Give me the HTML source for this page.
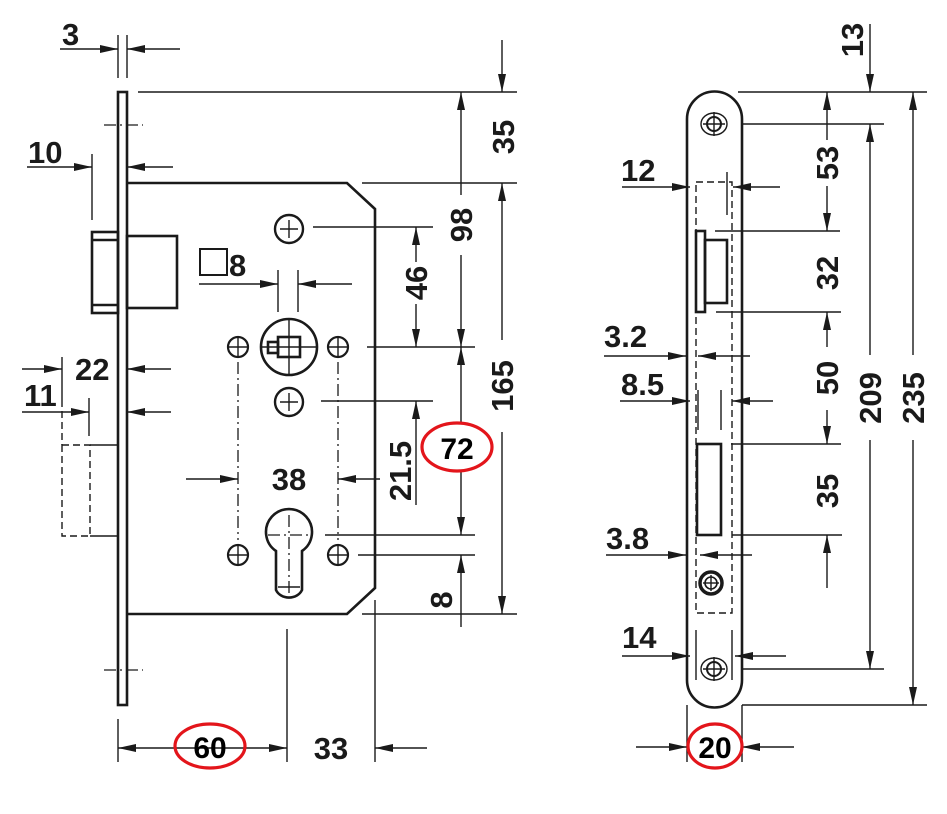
<!DOCTYPE html>
<html><head><meta charset="utf-8"><style>
html,body{margin:0;padding:0;background:#fff}
svg{display:block}
text{font-family:"Liberation Sans",Arial,sans-serif;font-weight:bold;font-size:31px;fill:#1a1a1a}
.o{stroke:#1a1a1a;stroke-width:2.6;fill:none}
.d{stroke:#1a1a1a;stroke-width:1.4;fill:none}
.dh{stroke:#1a1a1a;stroke-width:1.4;fill:none;stroke-dasharray:7 4}
.dd{stroke:#1a1a1a;stroke-width:1.3;fill:none;stroke-dasharray:12 4 2 4}
.r{stroke:#e3151b;stroke-width:3.2;fill:none}
</style></head><body>
<svg width="947" height="814" viewBox="0 0 947 814" xmlns="http://www.w3.org/2000/svg">
<defs>
<marker id="a" viewBox="0 0 18 8" refX="18" refY="4" markerWidth="18" markerHeight="8" markerUnits="userSpaceOnUse" orient="auto-start-reverse"><path d="M0,0L18,4L0,8z" fill="#1a1a1a"/></marker>
</defs>

<!-- LEFT: faceplate -->
<rect x="118" y="92" width="9" height="613" class="o"/>
<line x1="104" y1="125" x2="143" y2="125" class="dd"/>
<line x1="104" y1="670" x2="143" y2="670" class="dd"/>
<!-- body -->
<path d="M127,183 L347,183 L375,209 L375,588 L347,614 L127,614" class="o"/>
<!-- latch -->
<rect x="92" y="232" width="26" height="81" class="o"/>
<line x1="92" y1="240" x2="118" y2="240" class="o"/>
<line x1="92" y1="305" x2="118" y2="305" class="o"/>
<rect x="127" y="236" width="50" height="72" class="o"/>
<!-- square 8 -->
<rect x="200" y="249" width="27" height="26" stroke="#1a1a1a" stroke-width="2" fill="none"/>
<text x="229" y="276">8</text>
<!-- spindle -->
<circle cx="289" cy="347" r="28" class="o"/>
<line x1="289" y1="318" x2="289" y2="376" class="d"/>
<line x1="260" y1="347" x2="318" y2="347" class="d"/>
<rect x="278" y="337" width="22" height="20" class="o" fill="#fff"/>
<rect x="268" y="342" width="10" height="11" class="o"/>
<!-- screw holes -->
<g class="d">
<circle cx="289" cy="229" r="14" stroke-width="2.4"/><line x1="280" y1="229" x2="298" y2="229"/><line x1="289" y1="220" x2="289" y2="238"/>
<circle cx="289" cy="402" r="14" stroke-width="2.4"/><line x1="280" y1="402" x2="298" y2="402"/><line x1="289" y1="393" x2="289" y2="411"/>
<circle cx="238" cy="347" r="10" stroke-width="2.2"/><line x1="228" y1="347" x2="248" y2="347"/><line x1="238" y1="337" x2="238" y2="357"/>
<circle cx="338" cy="347" r="10" stroke-width="2.2"/><line x1="328" y1="347" x2="348" y2="347"/><line x1="338" y1="337" x2="338" y2="357"/>
<circle cx="238" cy="555" r="10" stroke-width="2.2"/><line x1="228" y1="555" x2="248" y2="555"/><line x1="238" y1="545" x2="238" y2="565"/>
<circle cx="338" cy="555" r="10" stroke-width="2.2"/><line x1="328" y1="555" x2="348" y2="555"/><line x1="338" y1="545" x2="338" y2="565"/>
</g>
<line x1="238" y1="362" x2="238" y2="540" class="dd"/>
<line x1="338" y1="362" x2="338" y2="540" class="dd"/>
<!-- keyhole -->
<path d="M276,551 A23,23 0 1 1 302,551 L302,590 A14,12 0 0 1 276,590 Z" class="o"/>
<line x1="289" y1="515" x2="289" y2="598" class="dd"/>
<line x1="268" y1="535" x2="310" y2="535" class="dd"/>
<line x1="278" y1="587" x2="300" y2="587" class="d"/>
<!-- hidden latch -->
<rect x="62" y="445" width="28" height="91" class="dh"/>
<line x1="62" y1="400" x2="62" y2="445" class="dh"/>
<line x1="90" y1="445" x2="118" y2="445" class="d"/>
<line x1="90" y1="536" x2="118" y2="536" class="d"/>

<!-- LEFT dims -->
<g class="d">
<line x1="118" y1="35" x2="118" y2="78"/><line x1="127" y1="35" x2="127" y2="78"/>
<line x1="60" y1="49" x2="118" y2="49" marker-end="url(#a)"/>
<line x1="180" y1="49" x2="127" y2="49" marker-end="url(#a)"/>
<line x1="92" y1="154" x2="92" y2="220"/>
<line x1="27" y1="167" x2="92" y2="167" marker-end="url(#a)"/>
<line x1="173" y1="167" x2="127" y2="167" marker-end="url(#a)"/>
<line x1="62" y1="357" x2="62" y2="400"/>
<line x1="22" y1="369" x2="62" y2="369" marker-end="url(#a)"/>
<line x1="171" y1="369" x2="127" y2="369" marker-end="url(#a)"/>
<line x1="89" y1="398" x2="89" y2="436"/>
<line x1="22" y1="412" x2="89" y2="412" marker-end="url(#a)"/>
<line x1="171" y1="412" x2="127" y2="412" marker-end="url(#a)"/>
<line x1="199" y1="284" x2="278" y2="284" marker-end="url(#a)"/>
<line x1="352" y1="284" x2="298" y2="284" marker-end="url(#a)"/>
<line x1="278" y1="270" x2="278" y2="312"/><line x1="298" y1="270" x2="298" y2="312"/>
<line x1="186" y1="479" x2="238" y2="479" marker-end="url(#a)"/>
<line x1="380" y1="479" x2="338" y2="479" marker-end="url(#a)"/>
<line x1="118" y1="719" x2="118" y2="762"/><line x1="287" y1="629" x2="287" y2="762"/><line x1="375" y1="600" x2="375" y2="762"/>
<line x1="118" y1="748" x2="287" y2="748" marker-start="url(#a)" marker-end="url(#a)"/>
<line x1="427" y1="748" x2="375" y2="748" marker-end="url(#a)"/>
<!-- horizontal extensions -->
<line x1="138" y1="92" x2="517" y2="92"/>
<line x1="362" y1="183" x2="517" y2="183"/>
<line x1="313" y1="227" x2="433" y2="227"/>
<line x1="367" y1="347" x2="475" y2="347"/>
<line x1="321" y1="401" x2="433" y2="401"/>
<line x1="325" y1="535" x2="475" y2="535"/>
<line x1="358" y1="555" x2="475" y2="555"/>
<line x1="362" y1="614" x2="517" y2="614"/>
<!-- verticals -->
<line x1="502" y1="40" x2="502" y2="92" marker-end="url(#a)"/>
<line x1="502" y1="340" x2="502" y2="183" marker-end="url(#a)"/>
<line x1="502" y1="432" x2="502" y2="614" marker-end="url(#a)"/>
<line x1="461" y1="195" x2="461" y2="92" marker-end="url(#a)"/>
<line x1="461" y1="255" x2="461" y2="347" marker-end="url(#a)"/>
<line x1="461" y1="423" x2="461" y2="347" marker-end="url(#a)"/>
<line x1="461" y1="472" x2="461" y2="535" marker-end="url(#a)"/>
<line x1="461" y1="627" x2="461" y2="555" marker-end="url(#a)"/>
<line x1="416" y1="262" x2="416" y2="227" marker-end="url(#a)"/>
<line x1="416" y1="304" x2="416" y2="347" marker-end="url(#a)"/>
<line x1="416" y1="505" x2="416" y2="401" marker-end="url(#a)"/>
</g>
<text x="62" y="45">3</text>
<text x="28" y="163">10</text>
<text x="75" y="380">22</text>
<text x="24" y="406">11</text>
<text x="289" y="490" text-anchor="middle">38</text>
<text x="331" y="759" text-anchor="middle">33</text>
<text transform="translate(503,137) rotate(-90)" text-anchor="middle" dy="0.36em">35</text>
<text transform="translate(461,225) rotate(-90)" text-anchor="middle" dy="0.36em">98</text>
<text transform="translate(416,283) rotate(-90)" text-anchor="middle" dy="0.36em">46</text>
<text transform="translate(502,386) rotate(-90)" text-anchor="middle" dy="0.36em">165</text>
<text transform="translate(400,471) rotate(-90)" text-anchor="middle" dy="0.36em">21.5</text>
<text transform="translate(441,600) rotate(-90)" text-anchor="middle" dy="0.36em">8</text>
<ellipse cx="210" cy="746" rx="35" ry="22" class="r"/>
<text x="210" y="758" text-anchor="middle" style="fill:#000;font-size:30px">60</text>
<ellipse cx="457" cy="447" rx="35" ry="24" class="r"/>
<text x="457" y="459" text-anchor="middle" style="fill:#000;font-size:30px">72</text>

<!-- RIGHT plate -->
<path d="M687,119 A27.5,27.5 0 0 1 742,119 L742,680 A27.5,27.5 0 0 1 687,680 Z" class="o"/>
<rect x="696" y="182" width="36" height="431" class="dh"/>
<rect x="696" y="231" width="9" height="81" class="o"/>
<rect x="705" y="240" width="22" height="63" class="o"/>
<rect x="697" y="444" width="24" height="91" class="o"/>
<g class="d">
<ellipse cx="714" cy="124" rx="13" ry="11"/><circle cx="714" cy="124" r="7" stroke-width="2"/><line x1="703" y1="124" x2="725" y2="124"/><line x1="714" y1="112" x2="714" y2="136"/>
<ellipse cx="714" cy="669" rx="13" ry="11"/><circle cx="714" cy="669" r="7" stroke-width="2"/><line x1="703" y1="669" x2="725" y2="669"/><line x1="714" y1="657" x2="714" y2="681"/>
<circle cx="711" cy="583" r="11" stroke-width="3.5"/><circle cx="711" cy="583" r="6" stroke-width="1.6"/><line x1="703" y1="583" x2="719" y2="583"/><line x1="711" y1="575" x2="711" y2="591"/>
</g>
<g class="d">
<line x1="727" y1="172" x2="727" y2="215"/>
<line x1="622" y1="187" x2="690" y2="187" marker-end="url(#a)"/>
<line x1="780" y1="187" x2="733" y2="187" marker-end="url(#a)"/>
<line x1="604" y1="356" x2="686" y2="356" marker-end="url(#a)"/>
<line x1="750" y1="356" x2="698" y2="356" marker-end="url(#a)"/>
<line x1="698" y1="390" x2="698" y2="430"/><line x1="721" y1="390" x2="721" y2="430"/>
<line x1="620" y1="401" x2="690" y2="401" marker-end="url(#a)"/>
<line x1="773" y1="401" x2="732" y2="401" marker-end="url(#a)"/>
<line x1="606" y1="555" x2="686" y2="555" marker-end="url(#a)"/>
<line x1="752" y1="555" x2="700" y2="555" marker-end="url(#a)"/>
<line x1="696" y1="630" x2="696" y2="680"/><line x1="732" y1="630" x2="732" y2="680"/>
<line x1="622" y1="656" x2="690" y2="656" marker-end="url(#a)"/>
<line x1="786" y1="656" x2="735" y2="656" marker-end="url(#a)"/>
<line x1="687" y1="705" x2="687" y2="762"/><line x1="742" y1="705" x2="742" y2="762"/>
<line x1="636" y1="747" x2="687" y2="747" marker-end="url(#a)"/>
<line x1="794" y1="747" x2="742" y2="747" marker-end="url(#a)"/>
<!-- horizontal extensions -->
<line x1="738" y1="92" x2="927" y2="92"/>
<line x1="742" y1="124" x2="884" y2="124"/>
<line x1="715" y1="231" x2="840" y2="231"/>
<line x1="716" y1="312" x2="841" y2="312"/>
<line x1="731" y1="444" x2="841" y2="444"/>
<line x1="732" y1="535" x2="842" y2="535"/>
<line x1="742" y1="669" x2="884" y2="669"/>
<line x1="742" y1="705" x2="927" y2="705"/>
<!-- verticals -->
<line x1="870" y1="24" x2="870" y2="92" marker-end="url(#a)"/>
<line x1="827" y1="140" x2="827" y2="92" marker-end="url(#a)"/>
<line x1="827" y1="186" x2="827" y2="231" marker-end="url(#a)"/>
<line x1="827" y1="347" x2="827" y2="312" marker-end="url(#a)"/>
<line x1="827" y1="410" x2="827" y2="444" marker-end="url(#a)"/>
<line x1="827" y1="588" x2="827" y2="535" marker-end="url(#a)"/>
<line x1="870" y1="355" x2="870" y2="124" marker-end="url(#a)"/>
<line x1="870" y1="440" x2="870" y2="669" marker-end="url(#a)"/>
<line x1="913" y1="355" x2="913" y2="92" marker-end="url(#a)"/>
<line x1="913" y1="440" x2="913" y2="705" marker-end="url(#a)"/>
</g>
<text x="621" y="181">12</text>
<text x="604" y="347">3.2</text>
<text x="621" y="395">8.5</text>
<text x="606" y="549">3.8</text>
<text x="622" y="648">14</text>
<text transform="translate(852,40) rotate(-90)" text-anchor="middle" dy="0.36em">13</text>
<text transform="translate(827,163) rotate(-90)" text-anchor="middle" dy="0.36em">53</text>
<text transform="translate(827,273) rotate(-90)" text-anchor="middle" dy="0.36em">32</text>
<text transform="translate(827,378) rotate(-90)" text-anchor="middle" dy="0.36em">50</text>
<text transform="translate(827,491) rotate(-90)" text-anchor="middle" dy="0.36em">35</text>
<text transform="translate(870,398) rotate(-90)" text-anchor="middle" dy="0.36em">209</text>
<text transform="translate(913,398) rotate(-90)" text-anchor="middle" dy="0.36em">235</text>
<ellipse cx="715" cy="746" rx="27" ry="22" class="r"/>
<text x="715" y="758" text-anchor="middle" style="fill:#000;font-size:30px">20</text>
</svg>
</body></html>
